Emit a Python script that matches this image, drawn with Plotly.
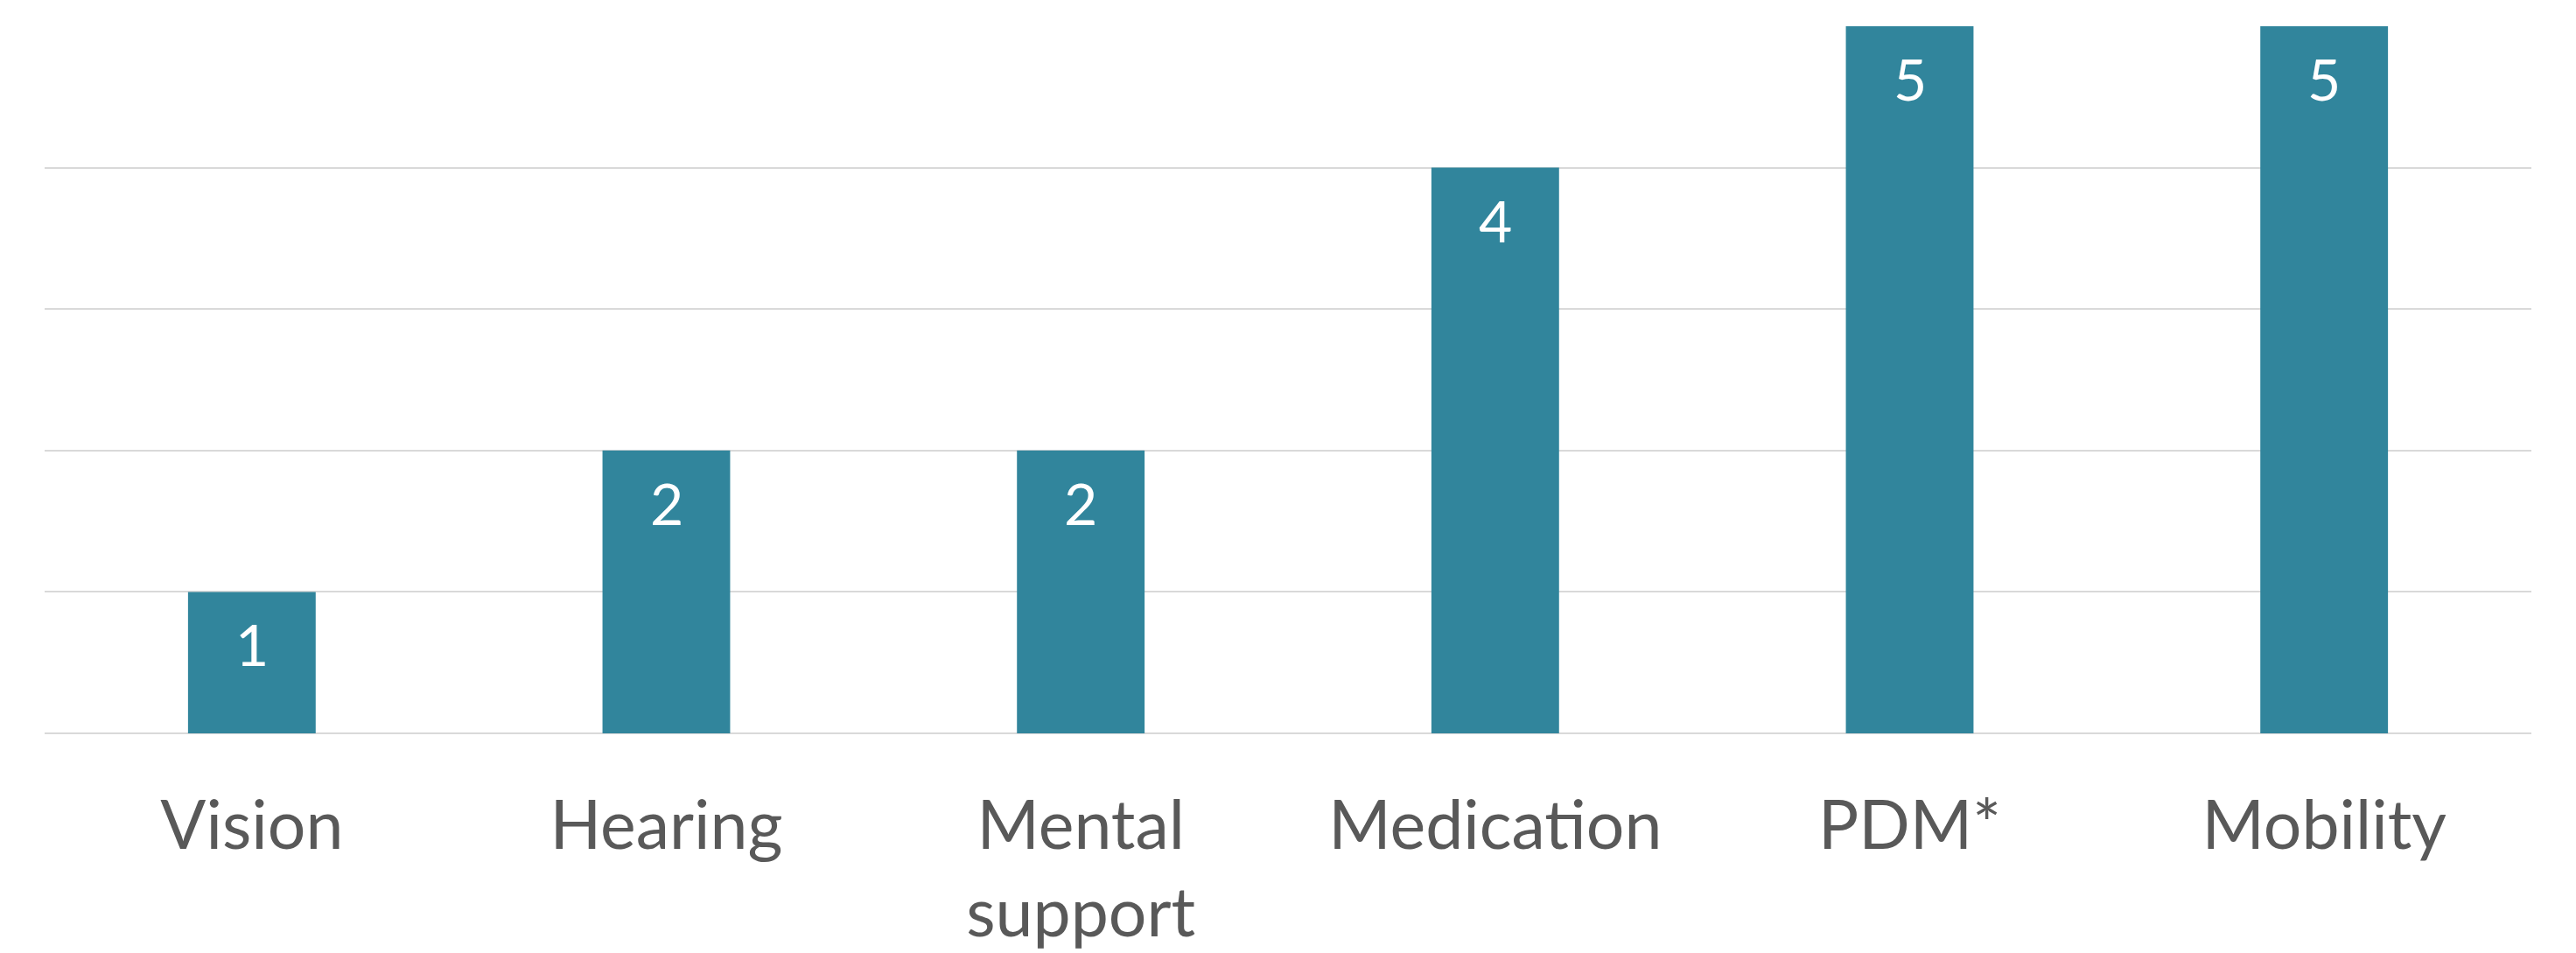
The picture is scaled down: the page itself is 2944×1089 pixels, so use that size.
import plotly.graph_objects as go

categories = ["Vision", "Hearing", "Mental<br>support", "Medication", "PDM*", "Mobility"]
values = [1, 2, 2, 4, 5, 5]

BAR = "#31859C"
GRID = "#D9D9D9"
TEXT = "#595959"
FONT = "Lato"

fig = go.Figure()
fig.add_trace(go.Bar(x=categories, y=values, marker=dict(color=BAR, line=dict(width=0)),
                     hoverinfo="skip"))

for c, v in zip(categories, values):
    fig.add_annotation(x=c, y=v, xref="x", yref="y", text=str(v), showarrow=False,
                       yanchor="top", yshift=-18,
                       font=dict(family=FONT, size=66, color="white"))

fig.update_layout(
    width=2944, height=1089,
    margin=dict(l=51, r=51, t=30, b=251),
    paper_bgcolor="white", plot_bgcolor="white",
    bargap=0.692,
    showlegend=False,
    font=dict(family=FONT, color=TEXT),
)
fig.update_xaxes(showline=False, ticks="", tickfont=dict(family=FONT, size=77, color=TEXT),
                 ticklabelstandoff=54, showgrid=False, automargin=False)
fig.update_yaxes(range=[0, 5], dtick=1, showticklabels=False, showgrid=True,
                 gridcolor=GRID, gridwidth=2, zeroline=True, zerolinecolor=GRID,
                 zerolinewidth=2, showline=False, ticks="", automargin=False)

fig.write_html("out.html")
